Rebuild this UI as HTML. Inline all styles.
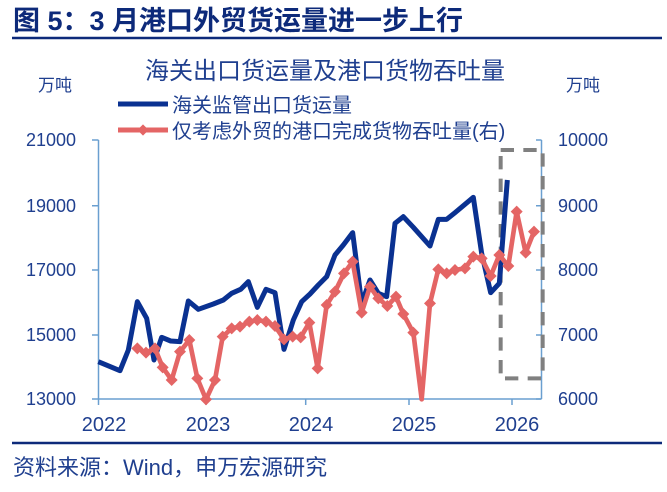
<!DOCTYPE html>
<html><head><meta charset="utf-8"><style>
body{margin:0;background:#fff;}
svg{display:block;font-family:"Liberation Sans","Noto Sans CJK SC",sans-serif;}
</style></head><body>
<svg width="667" height="492" viewBox="0 0 667 492">
<text x="13" y="30" font-size="27" font-weight="bold" fill="#0d2a7a">图 5：3 月港口外贸货运量进一步上行</text>
<line x1="12" y1="38" x2="662" y2="38" stroke="#0d2a7a" stroke-width="2.5"/>
<text x="325" y="79" font-size="24" fill="#1f3f8f" text-anchor="middle">海关出口货运量及港口货物吞吐量</text>
<text x="38" y="91" font-size="17" fill="#1f3f8f">万吨</text>
<text x="566" y="91" font-size="17" fill="#1f3f8f">万吨</text>
<line x1="118" y1="104" x2="168" y2="104" stroke="#0a3191" stroke-width="5"/>
<text x="172" y="112" font-size="20" fill="#1f3f8f">海关监管出口货运量</text>
<line x1="118" y1="130" x2="168" y2="130" stroke="#e46565" stroke-width="5"/>
<rect x="139" y="126" width="8" height="8" fill="#e46565" transform="rotate(45 143 130)"/>
<text x="172" y="138" font-size="20" fill="#1f3f8f">仅考虑外贸的港口完成货物吞吐量(右)</text>
<g font-size="18" fill="#1f3f8f" text-anchor="end">
<text x="76" y="146">21000</text><text x="76" y="212">19000</text><text x="76" y="276">17000</text><text x="76" y="341">15000</text><text x="76" y="405">13000</text>
</g>
<g font-size="18" fill="#1f3f8f">
<text x="558" y="146">10000</text><text x="558" y="212">9000</text><text x="558" y="276">8000</text><text x="558" y="341">7000</text><text x="558" y="405">6000</text>
</g>
<g font-size="20" fill="#1f3f8f" text-anchor="middle">
<text x="104" y="431">2022</text><text x="208" y="431">2023</text><text x="311" y="431">2024</text><text x="414" y="431">2025</text><text x="517" y="431">2026</text>
</g>
<g stroke="#6a9fd0" stroke-width="1.5" fill="none">
<line x1="98.5" y1="140" x2="98.5" y2="399"/>
<line x1="541.5" y1="140" x2="541.5" y2="399"/>
<line x1="98.5" y1="399" x2="541.5" y2="399"/>
<path d="M92 140H98.5M92 205.7H98.5M92 270H98.5M92 335H98.5M92 399H98.5"/>
<path d="M536 140H541.5M536 205.7H541.5M536 270H541.5M536 335H541.5M536 399H541.5"/>
<path d="M98.5 399V405M206 399V405M305.7 399V405M409 399V405M512 399V405"/>
</g>
<g transform="translate(80,140) scale(0.33333)">
<rect x="1262" y="30" width="126" height="685" fill="none" stroke="#808080" stroke-width="12" stroke-dasharray="40,28"/>
<polyline fill="none" stroke="#0a3191" stroke-width="15" stroke-linejoin="round" points="55,665 120,692 145,630 172,485 200,535 222,660 245,592 272,603 300,605 325,483 355,508 400,492 430,480 455,460 482,448 505,425 532,502 558,448 585,458 612,628 640,540 665,485 690,462 715,435 740,410 765,345 790,315 818,278 845,490 870,420 895,460 920,470 945,250 970,230 1000,262 1050,318 1075,238 1100,238 1125,218 1180,172 1205,340 1232,458 1258,430 1282,120"/>
<polyline fill="none" stroke="#e46565" stroke-width="14" stroke-linejoin="round" points="172,625 198,638 225,625 248,682 275,720 300,635 328,600 352,715 378,778 405,720 428,590 455,565 480,560 508,545 532,540 558,545 585,558 612,598 638,590 662,592 688,548 713,685 740,495 765,455 792,400 818,365 845,518 870,440 895,475 922,498 948,470 970,522 1000,578 1025,778 1050,490 1075,388 1100,400 1125,390 1155,385 1180,350 1205,355 1232,408 1258,345 1285,378 1310,215 1337,338 1362,275"/>
<g fill="#e46565">
<path d="M172 607l18 18-18 18-18-18zM198 620l18 18-18 18-18-18zM225 607l18 18-18 18-18-18zM248 664l18 18-18 18-18-18zM275 702l18 18-18 18-18-18zM300 617l18 18-18 18-18-18zM328 582l18 18-18 18-18-18zM352 697l18 18-18 18-18-18zM378 760l18 18-18 18-18-18zM405 702l18 18-18 18-18-18zM428 572l18 18-18 18-18-18zM455 547l18 18-18 18-18-18zM480 542l18 18-18 18-18-18zM508 527l18 18-18 18-18-18zM532 522l18 18-18 18-18-18zM558 527l18 18-18 18-18-18zM585 540l18 18-18 18-18-18zM612 580l18 18-18 18-18-18zM638 572l18 18-18 18-18-18zM662 574l18 18-18 18-18-18zM688 530l18 18-18 18-18-18zM713 667l18 18-18 18-18-18zM740 477l18 18-18 18-18-18zM765 437l18 18-18 18-18-18zM792 382l18 18-18 18-18-18zM818 347l18 18-18 18-18-18zM845 500l18 18-18 18-18-18zM870 422l18 18-18 18-18-18zM895 457l18 18-18 18-18-18zM922 480l18 18-18 18-18-18zM948 452l18 18-18 18-18-18zM970 504l18 18-18 18-18-18zM1000 560l18 18-18 18-18-18zM1050 472l18 18-18 18-18-18zM1075 370l18 18-18 18-18-18zM1100 382l18 18-18 18-18-18zM1125 372l18 18-18 18-18-18zM1155 367l18 18-18 18-18-18zM1180 332l18 18-18 18-18-18zM1205 337l18 18-18 18-18-18zM1232 390l18 18-18 18-18-18zM1258 327l18 18-18 18-18-18zM1285 360l18 18-18 18-18-18zM1310 197l18 18-18 18-18-18zM1337 320l18 18-18 18-18-18zM1362 257l18 18-18 18-18-18z"/>
</g>
</g>
<line x1="12" y1="443" x2="662" y2="443" stroke="#0d2a7a" stroke-width="2.5"/>
<text x="13" y="475" font-size="22" fill="#1f3f8f">资料来源：Wind，申万宏源研究</text>
</svg>
</body></html>
